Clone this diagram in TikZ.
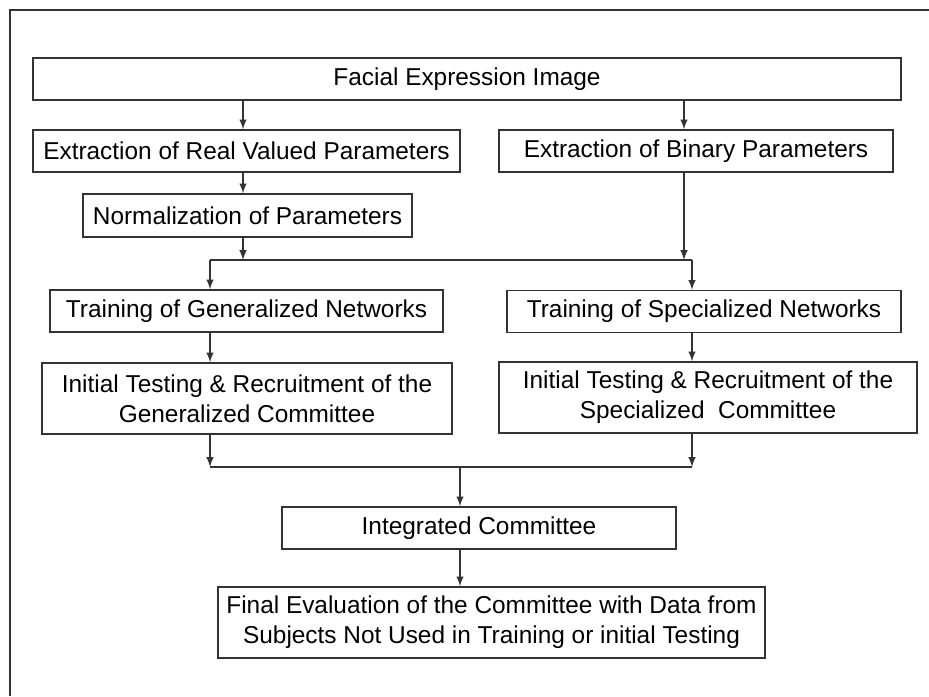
\documentclass[tikz,border=0pt]{standalone}
\usepackage{fontspec}
\setmainfont{Liberation Sans}
\usetikzlibrary{calc}

\newcommand{\boxfont}{\fontsize{12.2}{15}\selectfont}
\tikzset{
  stage/.style={draw=black!80, line width=0.7pt, inner sep=0pt, align=center, font=\boxfont},
  flow/.style={draw=black!80, line width=0.7pt, -latex},
  joint/.style={draw=black!80, line width=0.7pt}
}

\begin{document}
\begin{tikzpicture}[x=0.5pt,y=-0.5pt]
  \useasboundingbox (0,0) rectangle (929,696);
  % frame
  \draw[joint] (10,696) -- (10,10) -- (929,10);

  % stages
  \node[stage, minimum width=434pt, minimum height=21pt] (facial) at (467,79) {Facial Expression Image};
  \node[stage, minimum width=213.5pt, minimum height=21pt] (real) at (246.5,151) {Extraction of Real Valued Parameters};
  \node[stage, minimum width=197pt, minimum height=21pt] (binary) at (696,151) {Extraction of Binary Parameters};
  \node[stage, minimum width=164.5pt, minimum height=21.5pt] (norm) at (247.5,215.5) {Normalization of Parameters};
  \node[stage, minimum width=196.5pt, minimum height=21pt] (traingen) at (246.5,311) {Training of Generalized Networks};
  \node[stage, minimum width=197pt, minimum height=21pt] (trainspec) at (704,311.5) {Training of Specialized Networks};
  \node[stage, minimum width=205pt, minimum height=35.5pt] (initgen) at (247,398.5)
    {Initial Testing \& Recruitment of the\\Generalized Committee};
  \node[stage, minimum width=209pt, minimum height=35.5pt] (initspec) at (708,397.5)
    {Initial Testing \& Recruitment of the\\Specialized\ \ Committee};
  \node[stage, minimum width=197pt, minimum height=21pt] (integ) at (479,528) {Integrated Committee};
  \node[stage, minimum width=273.5pt, minimum height=35.5pt] (final) at (491.5,622.5)
    {Final Evaluation of the Committee with Data from\\Subjects Not Used in Training or initial Testing};

  % junctions
  \coordinate (jl) at (243,260);
  \coordinate (jr) at (684,260);
  \coordinate (sl) at (210,260);
  \coordinate (sr) at (692,260);
  \coordinate (bl) at (210,467);
  \coordinate (br) at (692,467);
  \coordinate (bm) at (460,467);

  % connectors
  \draw[flow] (facial.south -| jl) -- (real.north -| jl);
  \draw[flow] (facial.south -| jr) -- (binary.north -| jr);
  \draw[flow] (real.south -| jl) -- (norm.north -| jl);
  \draw[flow] (norm.south -| jl) -- (jl);
  \draw[flow] (binary.south -| jr) -- (jr);
  \draw[joint] (sl) -- (sr);
  \draw[flow] (sl) -- (traingen.north -| sl);
  \draw[flow] (sr) -- (trainspec.north -| sr);
  \draw[flow] (traingen.south -| sl) -- (initgen.north -| sl);
  \draw[flow] (trainspec.south -| sr) -- (initspec.north -| sr);
  \draw[flow] (initgen.south -| bl) -- (bl);
  \draw[flow] (initspec.south -| br) -- (br);
  \draw[joint] (bl) -- (br);
  \draw[flow] (bm) -- (integ.north -| bm);
  \draw[flow] (integ.south -| bm) -- (final.north -| bm);
\end{tikzpicture}
\end{document}
